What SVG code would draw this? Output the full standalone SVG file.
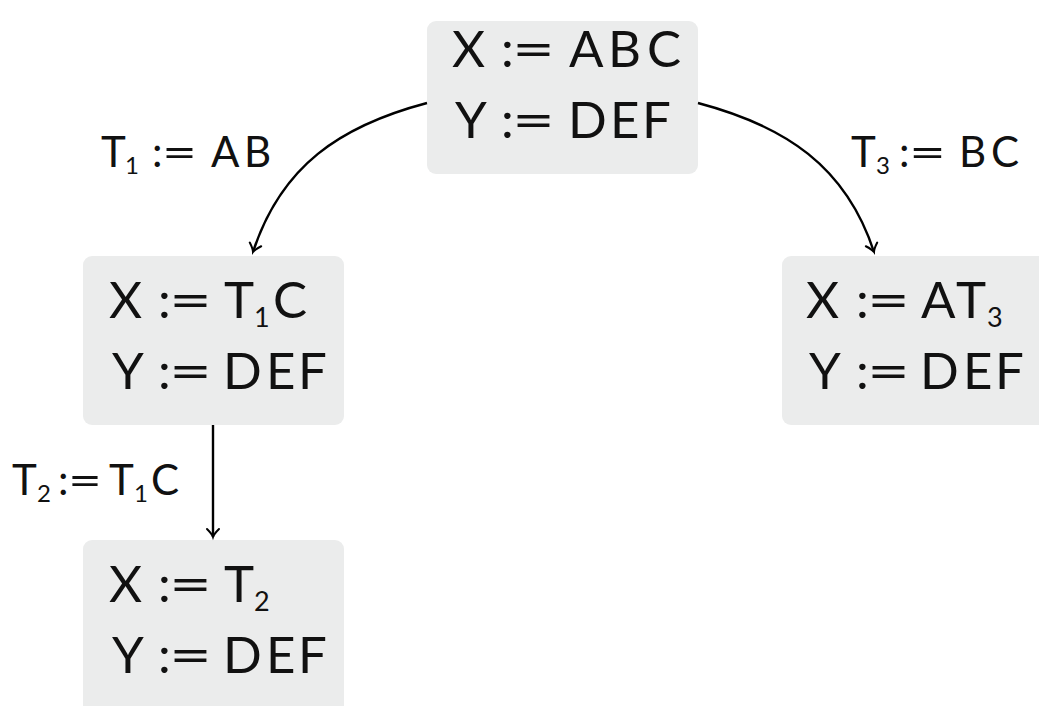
<svg xmlns="http://www.w3.org/2000/svg" width="1039" height="706" viewBox="0 0 1039 706">
<defs>
<style>
.box{fill:#ebecec;stroke:none}
text{font-family:Lato,"Open Sans","Noto Sans",sans-serif;font-weight:400;fill:#111}
.t{font-size:51px}
.l{font-size:42px}
.s{font-size:27px}
.ls{font-size:24px}
.e{fill:none;stroke:#000;stroke-width:2.4}
</style>
<marker id="ah" markerWidth="16" markerHeight="16" viewBox="-10 -8 14 16" refX="0" refY="0" orient="auto" markerUnits="userSpaceOnUse">
<path d="M-8,-6 Q-3,-1 0,0 Q-3,1 -8,6" fill="none" stroke="#000" stroke-width="2" stroke-linecap="round"/>
</marker>
</defs>
<rect width="1039" height="706" fill="#fff"/>
<g id="n0">
<rect class="box" x="427" y="21" width="271" height="153" rx="9"/>
<text class="t" x="452" y="67">X</text><text class="t" x="501" y="67">:</text><text class="t" x="512" y="67" textLength="43" lengthAdjust="spacingAndGlyphs">=</text><text class="t" x="569 608 647" y="67">ABC</text>
<text class="t" x="455" y="138">Y</text><text class="t" x="501" y="138">:</text><text class="t" x="512" y="138" textLength="43" lengthAdjust="spacingAndGlyphs">=</text><text class="t" x="568 610 642" y="138">DEF</text>
</g>
<g id="n1">
<rect class="box" x="83" y="256" width="261" height="169" rx="9"/>
<text class="t" x="109" y="318">X</text><text class="t" x="158" y="318">:</text><text class="t" x="169" y="318" textLength="43" lengthAdjust="spacingAndGlyphs">=</text><text class="t" x="224" y="318">T</text><text class="s" x="254" y="327">1</text><text class="t" x="273" y="318">C</text>
<text class="t" x="112" y="389">Y</text><text class="t" x="158" y="389">:</text><text class="t" x="169" y="389" textLength="43" lengthAdjust="spacingAndGlyphs">=</text><text class="t" x="223 266 298" y="389">DEF</text>
</g>
<g id="n2">
<rect class="box" x="782" y="256" width="270" height="169" rx="9"/>
<text class="t" x="806" y="318">X</text><text class="t" x="856" y="318">:</text><text class="t" x="867" y="318" textLength="43" lengthAdjust="spacingAndGlyphs">=</text><text class="t" x="921" y="318">A</text><text class="t" x="956" y="318">T</text><text class="s" x="987" y="327">3</text>
<text class="t" x="809" y="389">Y</text><text class="t" x="856" y="389">:</text><text class="t" x="867" y="389" textLength="43" lengthAdjust="spacingAndGlyphs">=</text><text class="t" x="920 963 995" y="389">DEF</text>
</g>
<g id="n3">
<rect class="box" x="83" y="540" width="261" height="180" rx="9"/>
<text class="t" x="109" y="602">X</text><text class="t" x="158" y="602">:</text><text class="t" x="169" y="602" textLength="43" lengthAdjust="spacingAndGlyphs">=</text><text class="t" x="224" y="602">T</text><text class="s" x="254" y="611">2</text>
<text class="t" x="112" y="673">Y</text><text class="t" x="158" y="673">:</text><text class="t" x="169" y="673" textLength="43" lengthAdjust="spacingAndGlyphs">=</text><text class="t" x="223 266 298" y="673">DEF</text>
</g>
<g id="edges">
<path class="e" d="M427,103 C340,126 281,166 253,252" marker-end="url(#ah)"/>
<path class="e" d="M698,103 C785,126 846,166 874,252" marker-end="url(#ah)"/>
<path class="e" d="M213,425 L213,537" marker-end="url(#ah)"/>
<text class="l" x="101" y="167">T</text><text class="ls" x="125" y="174">1</text><text class="l" x="152" y="167">:</text><text class="l" x="162" y="167" textLength="35" lengthAdjust="spacingAndGlyphs">=</text><text class="l" x="211 244" y="167">AB</text>
<text class="l" x="851" y="167">T</text><text class="ls" x="876" y="174">3</text><text class="l" x="899" y="167">:</text><text class="l" x="909" y="167" textLength="37" lengthAdjust="spacingAndGlyphs">=</text><text class="l" x="959 991" y="167">BC</text>
<text class="l" x="12" y="495">T</text><text class="ls" x="37" y="502">2</text><text class="l" x="58" y="495">:</text><text class="l" x="68" y="495" textLength="34" lengthAdjust="spacingAndGlyphs">=</text><text class="l" x="109" y="495">T</text><text class="ls" x="134" y="502">1</text><text class="l" x="151" y="495">C</text>
</g>
</svg>
